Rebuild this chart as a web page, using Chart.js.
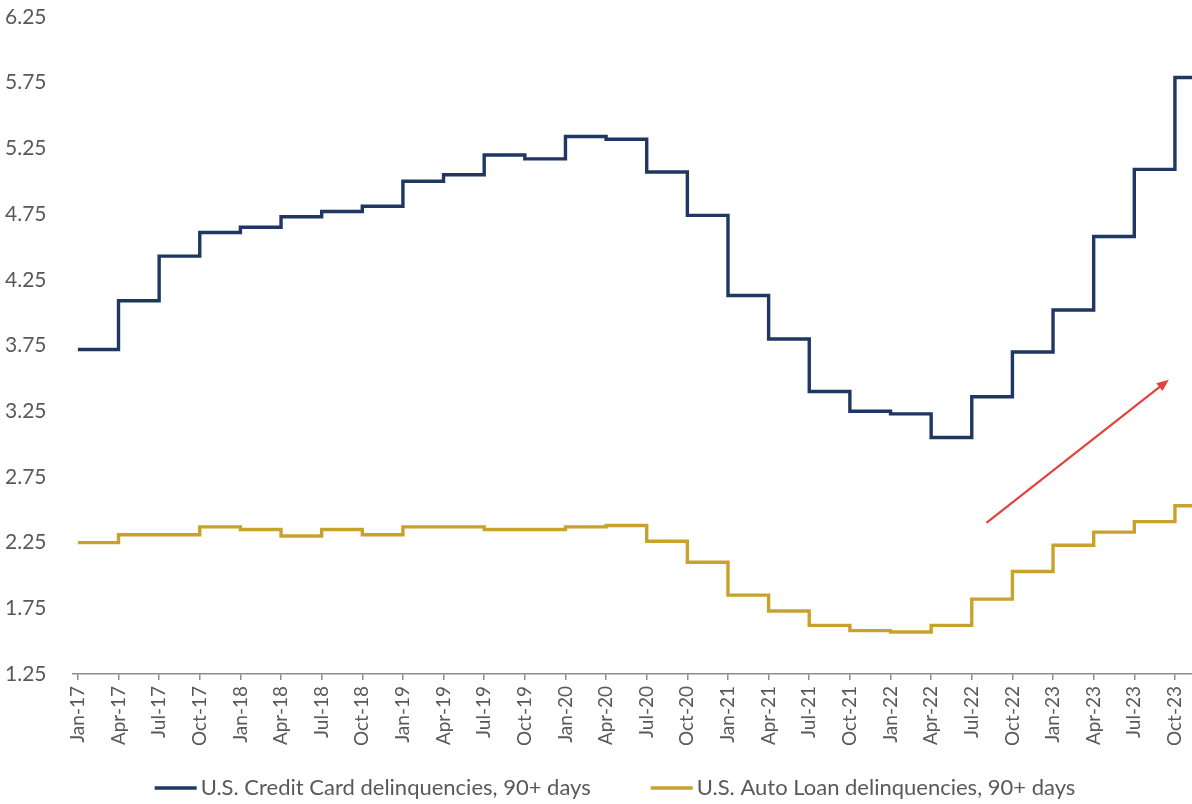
<!DOCTYPE html>
<html>
<head>
<meta charset="utf-8">
<script src="https://cdn.jsdelivr.net/npm/chart.js@4.4.1/dist/chart.umd.min.js"></script>
<style>
  html, body { margin: 0; padding: 0; background: #ffffff; overflow: hidden; }
  #wrap { width: 1192px; height: 804px; position: relative; }
</style>
</head>
<body>
<div id="wrap"><canvas id="chart"></canvas></div>
<script>
// Quarterly observation dates (start of each quarter)
const quarterLabels = [
  'Jan-17','Apr-17','Jul-17','Oct-17',
  'Jan-18','Apr-18','Jul-18','Oct-18',
  'Jan-19','Apr-19','Jul-19','Oct-19',
  'Jan-20','Apr-20','Jul-20','Oct-20',
  'Jan-21','Apr-21','Jul-21','Oct-21',
  'Jan-22','Apr-22','Jul-22','Oct-22',
  'Jan-23','Apr-23','Jul-23','Oct-23'
];

// Share of balances 90+ days delinquent, %
const creditCard = [
  3.72, 4.09, 4.43, 4.61,
  4.65, 4.73, 4.77, 4.81,
  5.00, 5.05, 5.20, 5.17,
  5.34, 5.32, 5.07, 4.74,
  4.13, 3.80, 3.40, 3.25,
  3.23, 3.05, 3.36, 3.70,
  4.02, 4.58, 5.09, 5.79
];
const autoLoan = [
  2.25, 2.31, 2.31, 2.37,
  2.35, 2.30, 2.35, 2.31,
  2.37, 2.37, 2.35, 2.35,
  2.37, 2.38, 2.26, 2.10,
  1.85, 1.73, 1.62, 1.58,
  1.57, 1.62, 1.82, 2.03,
  2.23, 2.33, 2.41, 2.53
];

const seriesNames = [
  'U.S. Credit Card delinquencies, 90+ days',
  'U.S. Auto Loan delinquencies, 90+ days'
];

const yTicks = [1.25, 1.75, 2.25, 2.75, 3.25, 3.75, 4.25, 4.75, 5.25, 5.75, 6.25];

// Trend arrow, in axis units (quarter index, percent)
const trendArrow = { from: [22.36, 2.40], to: [26.85, 3.49] };

const NAVY = '#1F3762';
const GOLD = '#C9A22E';
const TEXT = '#595959';
const FONT = 'Lato, "Open Sans", sans-serif';

// Legend geometry (pixels)
const LEGEND = { centerX: 615, centerY: 788, sample: 42, gap: 4, itemGap: 60, size: 22 };

// Each quarterly value holds until the next quarter begins; the last one
// holds to the end of its own quarter.
function stepPoints(values) {
  const pts = values.map((v, i) => ({ x: i, y: v }));
  pts.push({ x: values.length, y: values[values.length - 1] });
  return pts;
}

const arrowPlugin = {
  id: 'trendArrow',
  afterDatasetsDraw(chart) {
    const { ctx, scales: { x, y } } = chart;
    const x0 = x.getPixelForValue(trendArrow.from[0]);
    const y0 = y.getPixelForValue(trendArrow.from[1]);
    const x1 = x.getPixelForValue(trendArrow.to[0]);
    const y1 = y.getPixelForValue(trendArrow.to[1]);
    const ang = Math.atan2(y1 - y0, x1 - x0);
    const head = 12, half = 5;
    ctx.save();
    ctx.strokeStyle = '#E5413B';
    ctx.fillStyle = '#E5413B';
    ctx.lineWidth = 2.2;
    ctx.beginPath();
    ctx.moveTo(x0, y0);
    ctx.lineTo(x1 - Math.cos(ang) * head * 0.8, y1 - Math.sin(ang) * head * 0.8);
    ctx.stroke();
    ctx.beginPath();
    ctx.moveTo(x1, y1);
    ctx.lineTo(x1 - Math.cos(ang) * head - Math.sin(ang) * half,
               y1 - Math.sin(ang) * head + Math.cos(ang) * half);
    ctx.lineTo(x1 - Math.cos(ang) * head + Math.sin(ang) * half,
               y1 - Math.sin(ang) * head - Math.cos(ang) * half);
    ctx.closePath();
    ctx.fill();
    ctx.restore();
  }
};

// Series key under the axis: short line sample followed by the series name
const seriesKey = {
  id: 'seriesKey',
  afterDraw(chart) {
    const { ctx } = chart;
    const items = chart.data.datasets.map(ds => ({ text: ds.label, color: ds.borderColor }));
    ctx.save();
    ctx.font = `${LEGEND.size}px ${FONT}`;
    ctx.textBaseline = 'middle';
    ctx.textAlign = 'left';
    const widths = items.map(it => LEGEND.sample + LEGEND.gap + ctx.measureText(it.text).width);
    const total = widths.reduce((a, b) => a + b, 0) + LEGEND.itemGap * (items.length - 1);
    let x = LEGEND.centerX - total / 2;
    items.forEach((it, i) => {
      ctx.strokeStyle = it.color;
      ctx.lineWidth = 3.5;
      ctx.beginPath();
      ctx.moveTo(x, LEGEND.centerY);
      ctx.lineTo(x + LEGEND.sample, LEGEND.centerY);
      ctx.stroke();
      ctx.fillStyle = TEXT;
      ctx.fillText(it.text, x + LEGEND.sample + LEGEND.gap, LEGEND.centerY);
      x += widths[i] + LEGEND.itemGap;
    });
    ctx.restore();
  }
};

new Chart(document.getElementById('chart'), {
  type: 'line',
  data: {
    datasets: [
      {
        label: seriesNames[0],
        data: stepPoints(creditCard),
        borderColor: NAVY,
        backgroundColor: NAVY,
        borderWidth: 3.4,
        stepped: 'before',
        pointRadius: 0,
        borderJoinStyle: 'miter',
        fill: false
      },
      {
        label: seriesNames[1],
        data: stepPoints(autoLoan),
        borderColor: GOLD,
        backgroundColor: GOLD,
        borderWidth: 3.4,
        stepped: 'before',
        pointRadius: 0,
        borderJoinStyle: 'miter',
        fill: false
      }
    ]
  },
  options: {
    responsive: true,
    maintainAspectRatio: false,
    animation: false,
    devicePixelRatio: 1,
    layout: { padding: { left: 5, right: 0, top: 17, bottom: 56 } },
    plugins: {
      tooltip: { enabled: false },
      legend: { display: false }
    },
    scales: {
      x: {
        type: 'linear',
        min: -0.12,
        max: 27.42,
        afterBuildTicks(scale) {
          scale.ticks = quarterLabels.map((_, i) => ({ value: i }));
        },
        afterFit(scale) {
          scale.height = 74;
          scale.paddingLeft = 0;
          scale.paddingRight = 0;
        },
        ticks: {
          color: TEXT,
          font: { family: FONT, size: 19 },
          minRotation: 90,
          maxRotation: 90,
          autoSkip: false,
          padding: 6,
          callback: (v) => quarterLabels[v] ?? ''
        },
        grid: {
          display: true,
          drawOnChartArea: false,
          drawTicks: true,
          tickLength: 6,
          color: '#8C8C8C',
          lineWidth: 1.5
        },
        border: { display: true, color: '#8C8C8C', width: 1.5 }
      },
      y: {
        min: 1.25,
        max: 6.25,
        afterBuildTicks(scale) {
          scale.ticks = yTicks.map(v => ({ value: v }));
        },
        afterFit(scale) { scale.width = 68; },
        ticks: {
          color: TEXT,
          font: { family: FONT, size: 21 },
          crossAlign: 'far',
          padding: 0,
          callback: (v) => Number(v).toFixed(2)
        },
        grid: { display: false },
        border: { display: false }
      }
    }
  },
  plugins: [arrowPlugin, seriesKey]
});
</script>
</body>
</html>
